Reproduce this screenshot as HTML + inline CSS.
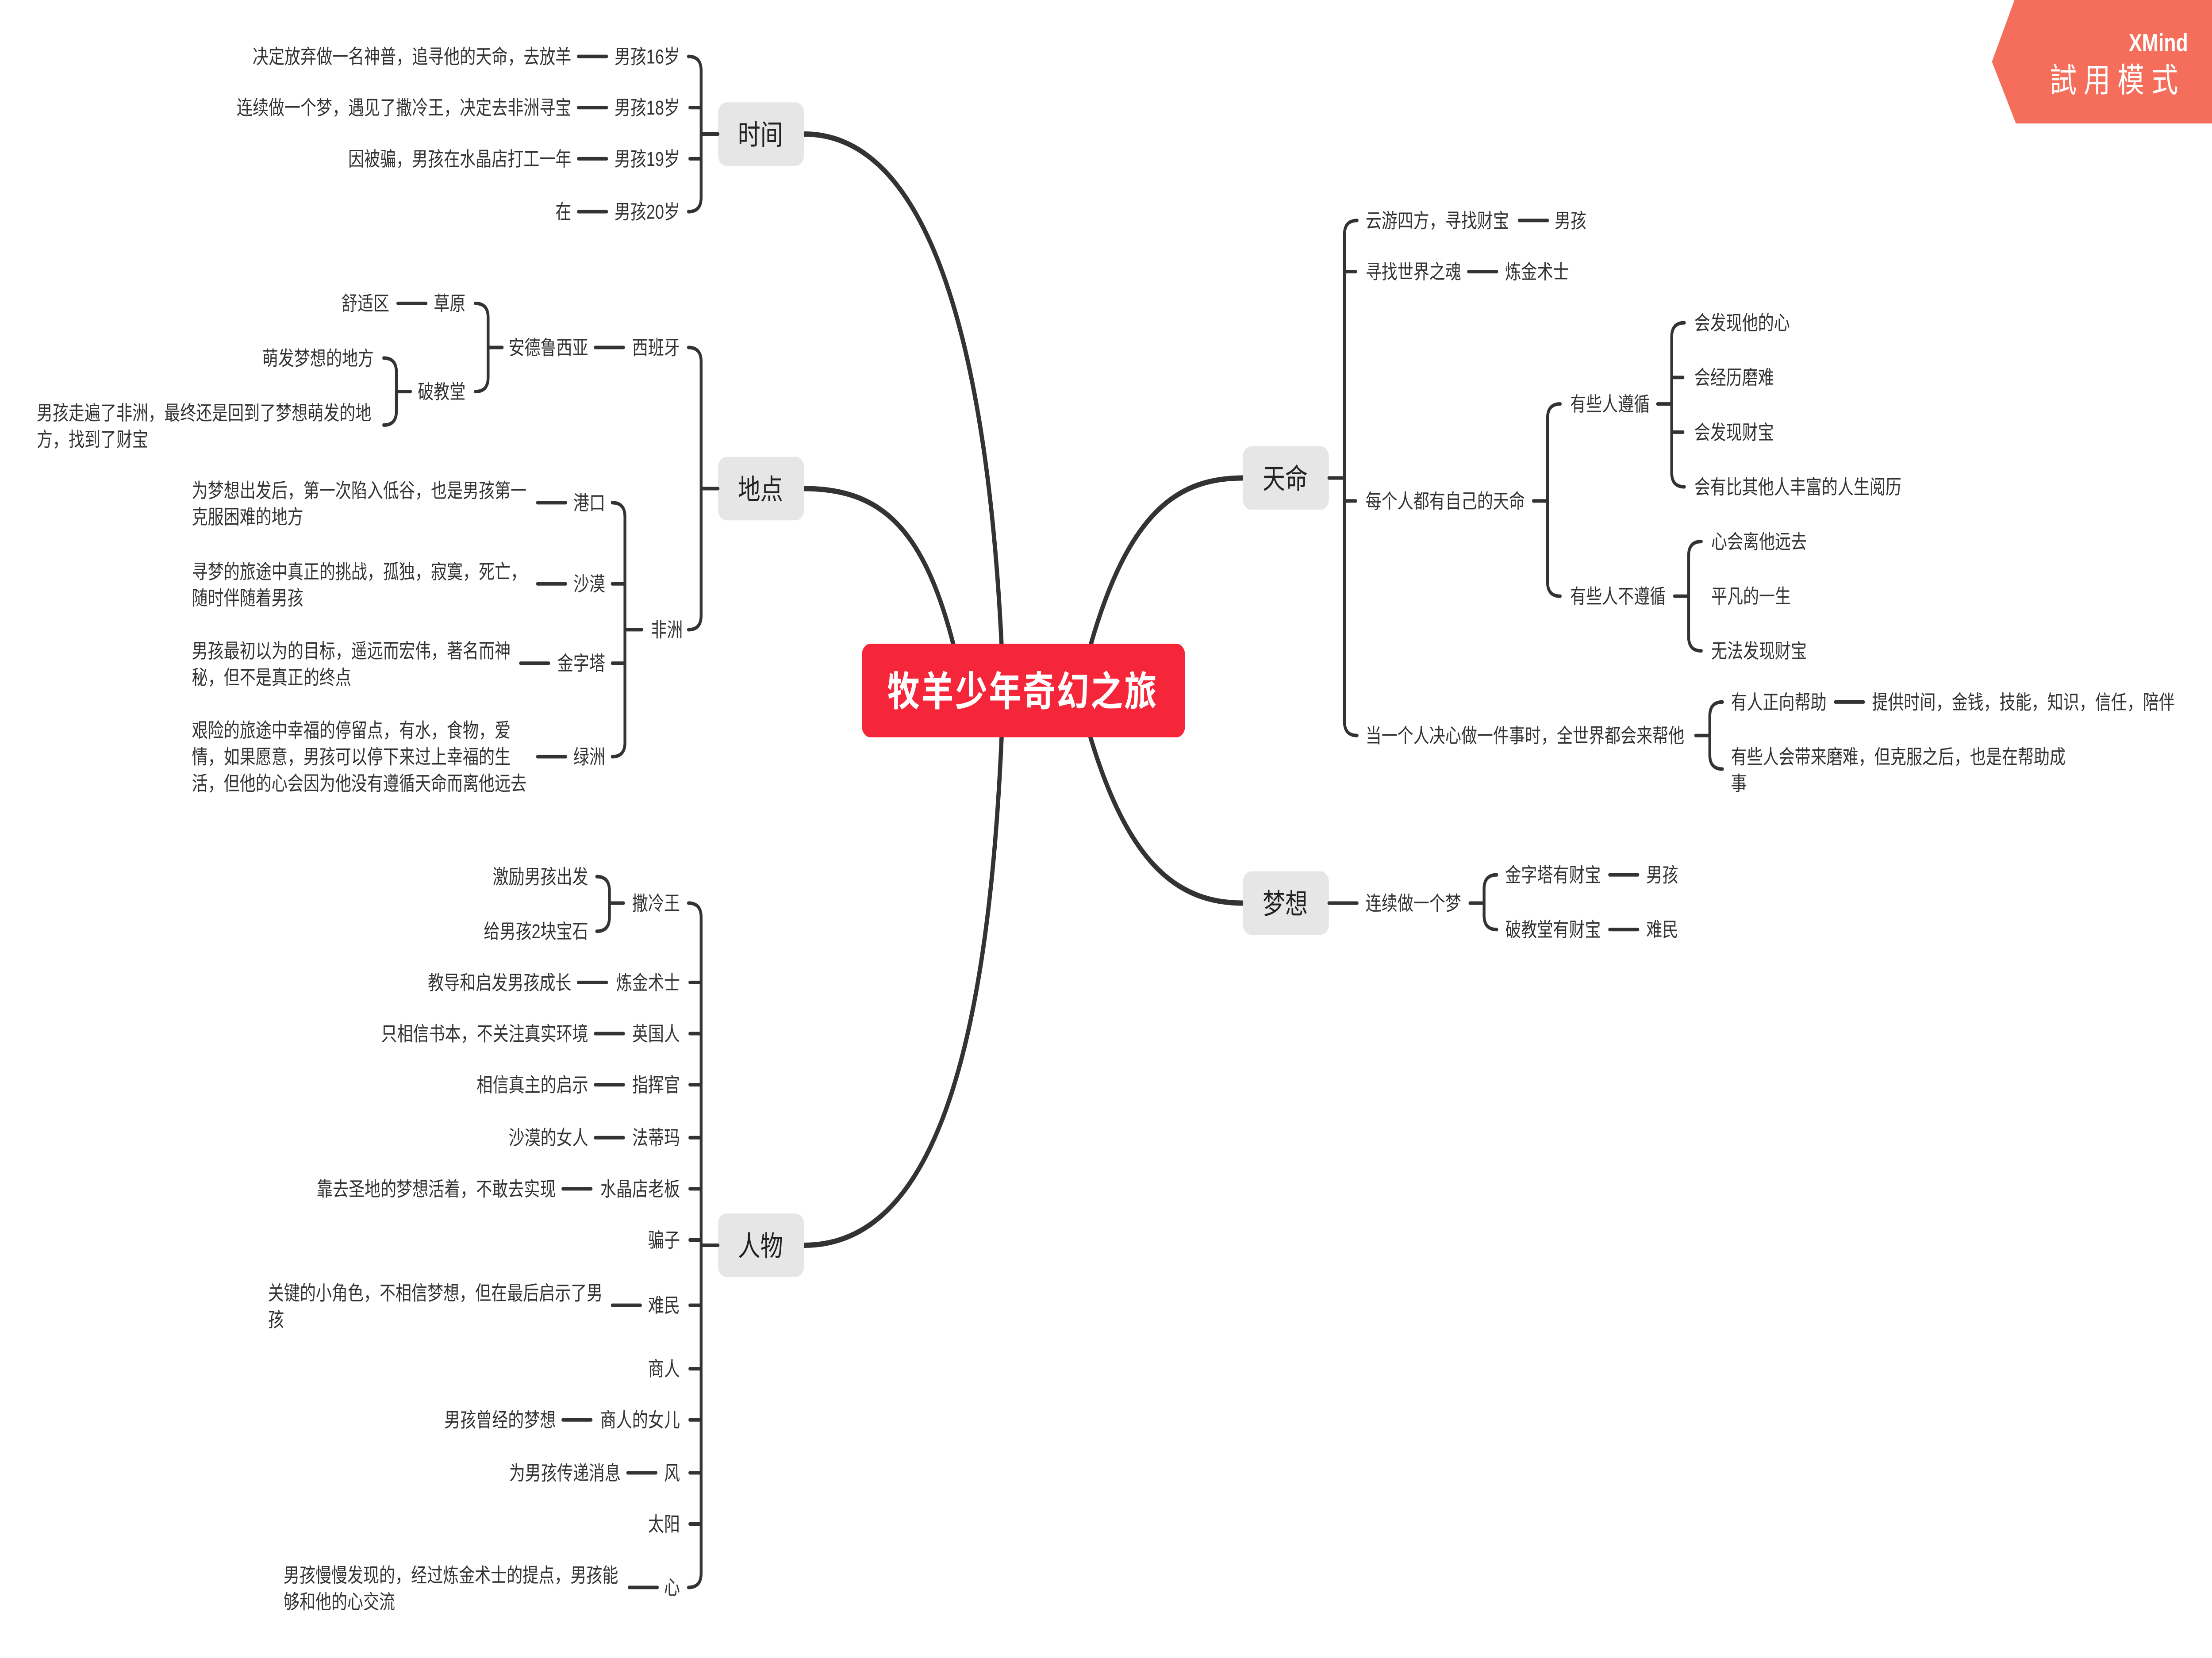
<!DOCTYPE html>
<html><head><meta charset="utf-8"><style>
html,body{margin:0;padding:0;background:#fff;width:100%;height:100%;overflow:hidden;}
svg{display:block;width:100vw;height:100vh;}
text{font-family:"Liberation Sans","Noto Sans CJK SC",sans-serif;fill:#333;}
.l{font-size:11.3px;}
.e{text-anchor:end;}
.m{text-anchor:middle;}
.t{font-size:16px;text-anchor:middle;fill:#222;}
path,line{stroke:#333;fill:none;stroke-linecap:round;}
.b{stroke-width:2;}
.c{stroke-width:3;}
</style></head><body>
<svg viewBox="0 0 1568 940" preserveAspectRatio="none" xmlns="http://www.w3.org/2000/svg">
<rect width="1568" height="940" fill="#fff"/>
<path class="c" d="M710,366 C700,200 660,76 570,76"/>
<path class="c" d="M676,366 C655,300 625,277 570,277"/>
<path class="c" d="M710,418 C700,600 660,706 570,706"/>
<path class="c" d="M773,366 C800,290 835,271 881,271"/>
<path class="c" d="M773,418 C800,490 835,512 881,512"/>
<rect x="611" y="365" width="229" height="53" rx="6" fill="#f5263a"/>
<text x="725" y="400" class="m" style="font-size:23px;fill:#fff;font-weight:bold;letter-spacing:1px">牧羊少年奇幻之旅</text>
<rect x="509" y="58" width="61" height="36" rx="6" fill="#e6e6e6"/><text x="539" y="82" class="t">时间</text>
<rect x="509" y="259" width="61" height="36" rx="6" fill="#e6e6e6"/><text x="539" y="283" class="t">地点</text>
<rect x="509" y="688" width="61" height="36" rx="6" fill="#e6e6e6"/><text x="539" y="712" class="t">人物</text>
<rect x="881" y="253" width="61" height="36" rx="6" fill="#e6e6e6"/><text x="911" y="277" class="t">天命</text>
<rect x="881" y="494" width="61" height="36" rx="6" fill="#e6e6e6"/><text x="911" y="518" class="t">梦想</text>

<path class="b" d="M488,32 Q497,32 497,40 L497,112 Q497,120 488,120 M489,61 L497,61 M489,90 L497,90 M497,76 L509,76"/>
<text x="482" y="36" class="l e">男孩16岁</text><line class="b" x1="410" y1="32" x2="430" y2="32"/><text x="405" y="36" class="l e">决定放弃做一名神普，追寻他的天命，去放羊</text>
<text x="482" y="65" class="l e">男孩18岁</text><line class="b" x1="410" y1="61" x2="430" y2="61"/><text x="405" y="65" class="l e">连续做一个梦，遇见了撒冷王，决定去非洲寻宝</text>
<text x="482" y="94" class="l e">男孩19岁</text><line class="b" x1="410" y1="90" x2="430" y2="90"/><text x="405" y="94" class="l e">因被骗，男孩在水晶店打工一年</text>
<text x="482" y="124" class="l e">男孩20岁</text><line class="b" x1="410" y1="120" x2="430" y2="120"/><text x="405" y="124" class="l e">在</text>

<path class="b" d="M488,197 Q497,197 497,205 L497,349 Q497,357 488,357 M497,277 L509,277"/>
<text x="482" y="201" class="l e">西班牙</text><line class="b" x1="422" y1="197" x2="442" y2="197"/>
<text x="417" y="201" class="l e">安德鲁西亚</text>
<path class="b" d="M337,172 Q346,172 346,180 L346,214 Q346,222 337,222 M346,197 L356,197"/>
<text x="330" y="176" class="l e">草原</text><line class="b" x1="282" y1="172" x2="302" y2="172"/><text x="276" y="176" class="l e">舒适区</text>
<text x="330" y="226" class="l e">破教堂</text>
<path class="b" d="M272,203 Q281,203 281,211 L281,233 Q281,241 272,241 M281,222 L291,222"/>
<text x="265" y="207" class="l e">萌发梦想的地方</text>
<text x="26" y="238" class="l">男孩走遍了非洲，最终还是回到了梦想萌发的地</text>
<text x="26" y="253" class="l">方，找到了财宝</text>
<text x="484" y="361" class="l e">非洲</text>
<path class="b" d="M434,285 Q443,285 443,293 L443,421 Q443,429 434,429 M434,331 L443,331 M434,376 L443,376 M443,357 L455,357"/>
<text x="429" y="289" class="l e">港口</text><line class="b" x1="381" y1="285" x2="401" y2="285"/>
<text x="136" y="282" class="l">为梦想出发后，第一次陷入低谷，也是男孩第一</text><text x="136" y="297" class="l">克服困难的地方</text>
<text x="429" y="335" class="l e">沙漠</text><line class="b" x1="381" y1="331" x2="401" y2="331"/>
<text x="136" y="328" class="l">寻梦的旅途中真正的挑战，孤独，寂寞，死亡，</text><text x="136" y="343" class="l">随时伴随着男孩</text>
<text x="429" y="380" class="l e">金字塔</text><line class="b" x1="369" y1="376" x2="389" y2="376"/>
<text x="136" y="373" class="l">男孩最初以为的目标，遥远而宏伟，著名而神</text><text x="136" y="388" class="l">秘，但不是真正的终点</text>
<text x="429" y="433" class="l e">绿洲</text><line class="b" x1="381" y1="429" x2="401" y2="429"/>
<text x="136" y="418" class="l">艰险的旅途中幸福的停留点，有水，食物，爱</text><text x="136" y="433" class="l">情，如果愿意，男孩可以停下来过上幸福的生</text><text x="136" y="448" class="l">活，但他的心会因为他没有遵循天命而离他远去</text>

<path class="b" d="M488,512 Q497,512 497,520 L497,892 Q497,900 488,900 M489,557 L497,557 M489,586 L497,586 M489,615 L497,615 M489,645 L497,645 M489,674 L497,674 M489,703 L497,703 M489,740 L497,740 M489,776 L497,776 M489,805 L497,805 M489,835 L497,835 M489,864 L497,864 M497,706 L509,706"/>
<text x="482" y="516" class="l e">撒冷王</text>
<path class="b" d="M423,497 Q432,497 432,505 L432,520 Q432,528 423,528 M432,512 L442,512"/>
<text x="417" y="501" class="l e">激励男孩出发</text><text x="417" y="532" class="l e">给男孩2块宝石</text>
<text x="482" y="561" class="l e">炼金术士</text><line class="b" x1="410" y1="557" x2="430" y2="557"/><text x="405" y="561" class="l e">教导和启发男孩成长</text>
<text x="482" y="590" class="l e">英国人</text><line class="b" x1="422" y1="586" x2="442" y2="586"/><text x="417" y="590" class="l e">只相信书本，不关注真实环境</text>
<text x="482" y="619" class="l e">指挥官</text><line class="b" x1="422" y1="615" x2="442" y2="615"/><text x="417" y="619" class="l e">相信真主的启示</text>
<text x="482" y="649" class="l e">法蒂玛</text><line class="b" x1="422" y1="645" x2="442" y2="645"/><text x="417" y="649" class="l e">沙漠的女人</text>
<text x="482" y="678" class="l e">水晶店老板</text><line class="b" x1="399" y1="674" x2="419" y2="674"/><text x="394" y="678" class="l e">靠去圣地的梦想活着，不敢去实现</text>
<text x="482" y="707" class="l e">骗子</text>
<text x="482" y="744" class="l e">难民</text><line class="b" x1="434" y1="740" x2="454" y2="740"/>
<text x="190" y="737" class="l">关键的小角色，不相信梦想，但在最后启示了男</text><text x="190" y="752" class="l">孩</text>
<text x="482" y="780" class="l e">商人</text>
<text x="482" y="809" class="l e">商人的女儿</text><line class="b" x1="399" y1="805" x2="419" y2="805"/><text x="394" y="809" class="l e">男孩曾经的梦想</text>
<text x="482" y="839" class="l e">风</text><line class="b" x1="445" y1="835" x2="465" y2="835"/><text x="440" y="839" class="l e">为男孩传递消息</text>
<text x="482" y="868" class="l e">太阳</text>
<text x="482" y="904" class="l e">心</text><line class="b" x1="446" y1="900" x2="466" y2="900"/>
<text x="201" y="897" class="l">男孩慢慢发现的，经过炼金术士的提点，男孩能</text><text x="201" y="912" class="l">够和他的心交流</text>

<path class="b" d="M962,125 Q953,125 953,133 L953,409 Q953,417 962,417 M953,154 L961,154 M953,284 L961,284 M942,271 L953,271"/>
<text x="968" y="129" class="l">云游四方，寻找财宝</text><line class="b" x1="1077" y1="125" x2="1097" y2="125"/><text x="1102" y="129" class="l">男孩</text>
<text x="968" y="158" class="l">寻找世界之魂</text><line class="b" x1="1041" y1="154" x2="1061" y2="154"/><text x="1067" y="158" class="l">炼金术士</text>
<text x="968" y="288" class="l">每个人都有自己的天命</text>
<path class="b" d="M1087,284 L1097,284 M1106,229 Q1097,229 1097,237 L1097,330 Q1097,338 1106,338"/>
<text x="1113" y="233" class="l">有些人遵循</text>
<path class="b" d="M1175,229 L1185,229 M1194,183 Q1185,183 1185,191 L1185,268 Q1185,276 1194,276 M1185,214 L1193,214 M1185,245 L1193,245"/>
<text x="1201" y="187" class="l">会发现他的心</text><text x="1201" y="218" class="l">会经历磨难</text><text x="1201" y="249" class="l">会发现财宝</text><text x="1201" y="280" class="l">会有比其他人丰富的人生阅历</text>
<text x="1113" y="342" class="l">有些人不遵循</text>
<path class="b" d="M1187,338 L1197,338 M1206,307 Q1197,307 1197,315 L1197,361 Q1197,369 1206,369"/>
<text x="1213" y="311" class="l">心会离他远去</text><text x="1213" y="342" class="l">平凡的一生</text><text x="1213" y="373" class="l">无法发现财宝</text>
<text x="968" y="421" class="l">当一个人决心做一件事时，全世界都会来帮他</text>
<path class="b" d="M1202,417 L1212,417 M1221,398 Q1212,398 1212,406 L1212,428 Q1212,436 1221,436"/>
<text x="1227" y="402" class="l">有人正向帮助</text><line class="b" x1="1301" y1="398" x2="1321" y2="398"/><text x="1327" y="402" class="l">提供时间，金钱，技能，知识，信任，陪伴</text>
<text x="1227" y="433" class="l">有些人会带来磨难，但克服之后，也是在帮助成</text><text x="1227" y="448" class="l">事</text>

<path class="b" d="M942,512 L962,512"/>
<text x="968" y="516" class="l">连续做一个梦</text>
<path class="b" d="M1042,512 L1052,512 M1061,496 Q1052,496 1052,504 L1052,519 Q1052,527 1061,527"/>
<text x="1067" y="500" class="l">金字塔有财宝</text><line class="b" x1="1141" y1="496" x2="1161" y2="496"/><text x="1167" y="500" class="l">男孩</text>
<text x="1067" y="531" class="l">破教堂有财宝</text><line class="b" x1="1141" y1="527" x2="1161" y2="527"/><text x="1167" y="531" class="l">难民</text>

<polygon points="1428,0 1568,0 1568,70 1429,70 1412,35" fill="#f46e5b"/>
<text x="1551" y="29" style="font-size:14px;fill:#fff;font-weight:bold;text-anchor:end">XMind</text>
<text x="1549" y="52" style="font-size:19px;fill:#fff;text-anchor:end;letter-spacing:5px">試用模式</text>
</svg>
</body></html>
